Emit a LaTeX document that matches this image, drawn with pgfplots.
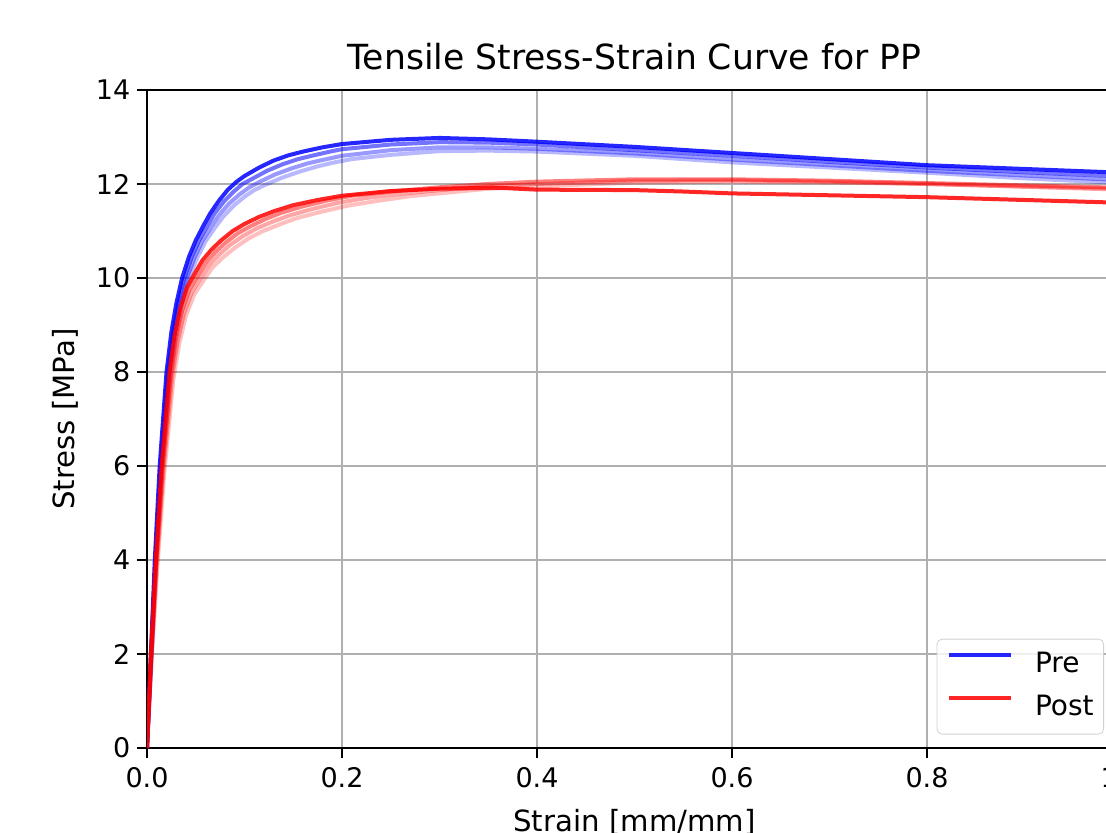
\documentclass[border=0pt]{standalone}
\usepackage{fontspec}
\setmainfont{DejaVu Sans}
\usepackage{pgfplots}
\pgfplotsset{compat=1.18}
\definecolor{gridgray}{RGB}{176,176,176}
\begin{document}
\begin{tikzpicture}
\begin{axis}[
  at={(0,0)}, anchor=south west, name=ax,
  x=487.5pt, y=23.5pt,
  xmin=0, xmax=1, ymin=0, ymax=14,
  xtick={0,0.2,0.4,0.6,0.8,1.0},
  ytick={0,2,4,6,8,10,12,14},
  xticklabel style={/pgf/number format/.cd, fixed, fixed zerofill, precision=1, /tikz/.cd, yshift=-1.5pt},
  yticklabel style={/pgf/number format/.cd, fixed, precision=0},
  /pgf/number format/assume math mode=true,
  tick label style={font=\fontsize{13.5}{16}\selectfont},
  tick align=outside, tick pos=left,
  major tick length=4.8pt,
  every tick/.style={black, line width=1.08pt},
  axis line style={black, line width=1.1pt},
  grid=major,
  major grid style={gridgray, line width=1.08pt},
  clip=true,
  xlabel={Strain [mm/mm]},
  ylabel={Stress [MPa]},
  label style={font=\fontsize{14.6}{17}\selectfont},
  xlabel style={at={(axis description cs:0.5,0)}, anchor=base, yshift=-41.9pt},
  ylabel style={at={(axis description cs:0,0.5)}, anchor=base, yshift=36pt},
  title={Tensile Stress-Strain Curve for PP},
  title style={at={(axis description cs:0.5,1)}, anchor=base, yshift=4pt, font=\fontsize{17.3}{20}\selectfont},
  legend style={at={(axis cs:1,0)}, anchor=south east, xshift=-9pt, yshift=6.75pt,
    draw=black!18, rounded corners=2.5pt, fill=white, fill opacity=0.8, text opacity=1,
    font=\fontsize{14}{16}\selectfont, inner xsep=5pt, inner ysep=6.5pt,
    row sep=8.5pt, column sep=11pt,
    nodes={inner sep=0pt, text height=10pt, text depth=3pt}},
  legend cell align=left,
  legend image code/.code={\draw[#1, line width=2pt] (0pt,4.9pt) -- (31pt,4.9pt);},
]
% Pre curves
\addplot[blue, opacity=0.85, line width=2pt] coordinates {(0,0) (0.004,2) (0.008,4) (0.013,6) (0.02,8) (0.025,8.85) (0.03,9.45) (0.036,10.0) (0.043,10.45) (0.05,10.8) (0.058,11.12) (0.065,11.38) (0.074,11.65) (0.083,11.88) (0.092,12.05) (0.1,12.17) (0.115,12.35) (0.13,12.5) (0.145,12.61) (0.16,12.69) (0.18,12.78) (0.2,12.85) (0.25,12.94) (0.3,12.98) (0.35,12.95) (0.4,12.9) (0.5,12.79) (0.6,12.66) (0.7,12.53) (0.8,12.4) (0.9,12.32) (1.0,12.24)};
\addlegendentry{Pre}
\addplot[blue, opacity=0.55, line width=2pt, forget plot] coordinates {(0,0) (0.0043,2) (0.0086,4) (0.0139,6) (0.0214,8) (0.0268,8.85) (0.032,9.45) (0.0385,10) (0.046,10.45) (0.0535,10.8) (0.062,11.12) (0.0695,11.38) (0.079,11.63) (0.089,11.84) (0.098,12.0) (0.107,12.1) (0.123,12.28) (0.139,12.42) (0.155,12.53) (0.171,12.61) (0.19,12.7) (0.2,12.74) (0.25,12.84) (0.3,12.89) (0.35,12.88) (0.4,12.84) (0.5,12.72) (0.6,12.6) (0.7,12.47) (0.8,12.35) (0.9,12.25) (1.0,12.16)};
\addplot[blue, opacity=0.4, line width=2pt, forget plot] coordinates {(0,0) (0.0046,2) (0.0091,4) (0.0148,6) (0.0228,8) (0.0285,8.85) (0.0342,9.45) (0.041,10) (0.049,10.45) (0.057,10.8) (0.066,11.1) (0.074,11.34) (0.084,11.58) (0.095,11.78) (0.105,11.93) (0.114,12.03) (0.131,12.2) (0.148,12.33) (0.165,12.44) (0.182,12.52) (0.2,12.6) (0.25,12.72) (0.3,12.78) (0.35,12.78) (0.4,12.75) (0.5,12.65) (0.6,12.52) (0.7,12.4) (0.8,12.28) (0.9,12.18) (1.0,12.08)};
\addplot[blue, opacity=0.28, line width=2pt, forget plot] coordinates {(0,0) (0.0048,2) (0.0096,4) (0.0156,6) (0.024,8) (0.03,8.85) (0.036,9.45) (0.043,10) (0.052,10.45) (0.06,10.78) (0.07,11.08) (0.078,11.3) (0.089,11.54) (0.1,11.73) (0.11,11.87) (0.12,11.97) (0.138,12.13) (0.156,12.26) (0.174,12.37) (0.19,12.45) (0.21,12.53) (0.25,12.62) (0.3,12.7) (0.35,12.71) (0.4,12.69) (0.5,12.6) (0.6,12.46) (0.7,12.35) (0.8,12.24) (0.9,12.12) (1.0,12.02)};
% Post curves
\addplot[red, opacity=0.85, line width=2pt] coordinates {(0,0) (0.004,2) (0.009,4) (0.015,6) (0.023,8) (0.028,8.75) (0.034,9.35) (0.041,9.8) (0.049,10.1) (0.057,10.38) (0.066,10.6) (0.076,10.8) (0.088,11.0) (0.1,11.15) (0.115,11.3) (0.13,11.42) (0.15,11.55) (0.175,11.66) (0.2,11.75) (0.25,11.85) (0.3,11.9) (0.36,11.92) (0.4,11.88) (0.5,11.87) (0.55,11.84) (0.6,11.8) (0.7,11.76) (0.8,11.72) (0.9,11.66) (1.0,11.6)};
\addlegendentry{Post}
\addplot[red, opacity=0.5, line width=2pt, forget plot] coordinates {(0,0) (0.0042,1.95) (0.0095,3.95) (0.016,5.95) (0.0245,7.95) (0.0297,8.7) (0.036,9.3) (0.0435,9.75) (0.052,10.05) (0.0605,10.33) (0.07,10.55) (0.0805,10.75) (0.093,10.95) (0.106,11.1) (0.122,11.26) (0.138,11.39) (0.159,11.52) (0.185,11.65) (0.21,11.75) (0.25,11.84) (0.3,11.93) (0.35,12.0) (0.4,12.05) (0.5,12.1) (0.6,12.1) (0.7,12.07) (0.8,12.02) (0.9,11.97) (1.0,11.92)};
\addplot[red, opacity=0.35, line width=2pt, forget plot] coordinates {(0,0) (0.0045,1.9) (0.01,3.9) (0.0168,5.9) (0.0258,7.9) (0.0314,8.65) (0.038,9.25) (0.046,9.7) (0.055,10.0) (0.064,10.28) (0.074,10.5) (0.085,10.7) (0.099,10.9) (0.112,11.05) (0.129,11.2) (0.146,11.33) (0.168,11.46) (0.196,11.6) (0.224,11.7) (0.26,11.79) (0.3,11.87) (0.35,11.95) (0.4,12.0) (0.5,12.07) (0.6,12.08) (0.7,12.05) (0.8,12.0) (0.9,11.94) (1.0,11.88)};
\addplot[red, opacity=0.25, line width=2pt, forget plot] coordinates {(0,0) (0.0047,1.85) (0.0106,3.85) (0.0177,5.85) (0.0271,7.85) (0.033,8.6) (0.04,9.2) (0.0484,9.65) (0.058,9.95) (0.067,10.22) (0.078,10.44) (0.09,10.64) (0.104,10.84) (0.118,10.99) (0.136,11.14) (0.153,11.27) (0.177,11.4) (0.206,11.54) (0.236,11.64) (0.27,11.74) (0.3,11.8) (0.35,11.9) (0.4,11.95) (0.5,12.03) (0.6,12.05) (0.7,12.03) (0.8,12.0) (0.9,11.95) (1.0,11.9)};
\end{axis}
\pgfresetboundingbox
\useasboundingbox (-73.5pt,-42pt) rectangle (479.5pt,374pt);
\end{tikzpicture}
\end{document}
